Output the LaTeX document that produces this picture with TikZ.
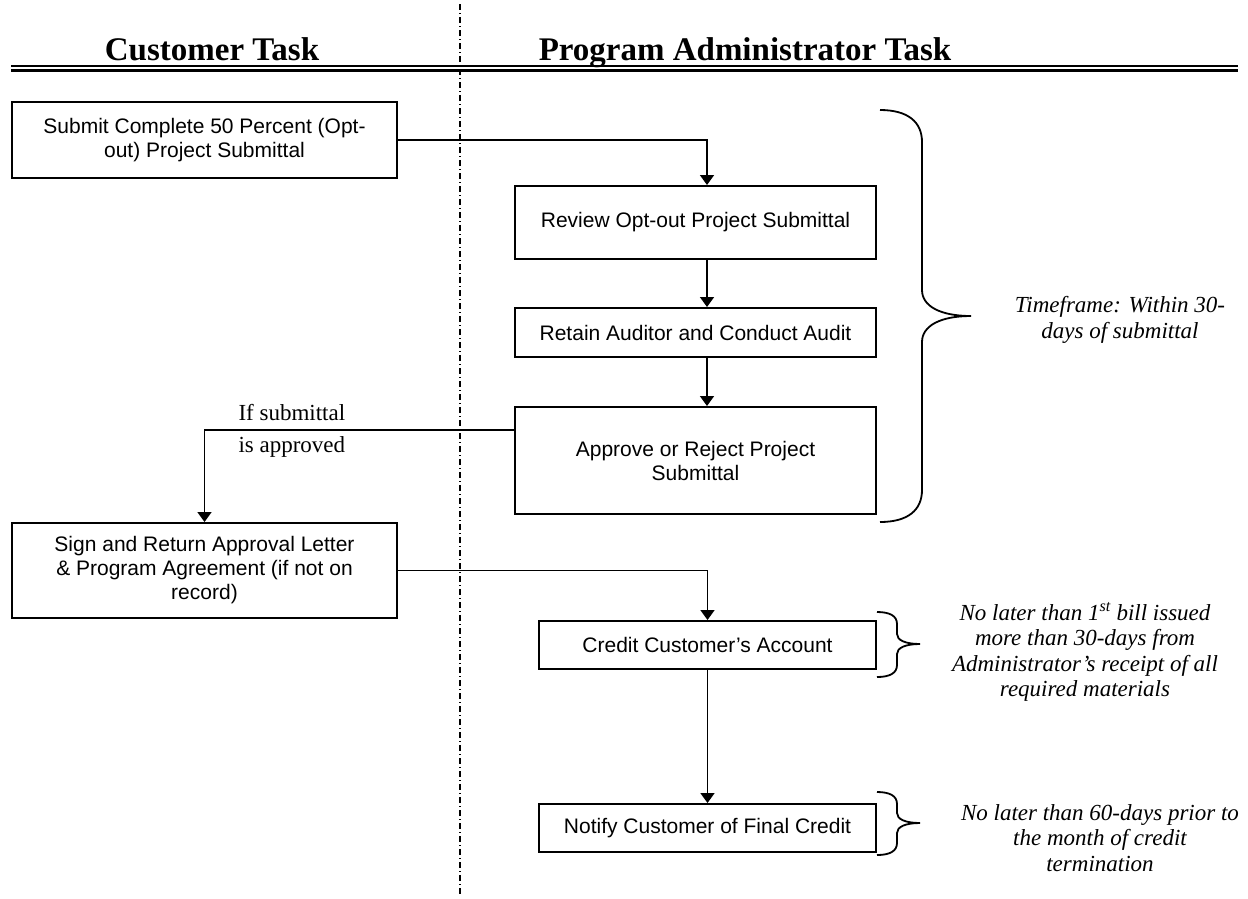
\documentclass[tikz,border=0pt]{standalone}
\usepackage{fontspec}
\setmainfont{Liberation Serif}
\newfontfamily\boxfont{Liberation Sans}
\usetikzlibrary{arrows.meta, positioning, calc}

\begin{document}
\begin{tikzpicture}[x=1pt, y=-1pt,
    task/.style={draw, line width=2pt, align=center, inner sep=2pt, font=\boxfont\fontsize{21}{24}\selectfont},
    note/.style={align=center, font=\itshape\fontsize{23}{25.5}\selectfont},
    head/.style={font=\bfseries\fontsize{33}{36}\selectfont},
    arr/.style={line width=1.7pt, -{Triangle[width=14pt, length=10pt]}},
    curly/.style={line width=1.8pt}]
    \useasboundingbox (0,0) rectangle (1248,898);
    % swim lanes
    \draw[line width=1.2pt, dash pattern=on 6pt off 3pt on 1pt off 3pt] (460,4) -- (460,896);
    \node[head, anchor=base] (cust) at (212,60) {Customer Task};
    \node[head, anchor=base] (admin) at (745,60) {Program Administrator Task};
    \draw[line width=2.3pt] (11,66) -- (1238,66);
    \draw[line width=2.3pt] (11,70.5) -- (1238,70.5);

    % steps
    \node[task, anchor=north west, minimum width=385pt, minimum height=76pt] (sub) at (11,101) {Submit Complete 50 Percent (Opt-\\out) Project Submittal};
    \node[task, anchor=north west, minimum width=361pt, minimum height=73pt] (rev) at (514,185) {Review Opt-out Project Submittal};
    \node[task, minimum width=361pt, minimum height=49pt, below=47pt of rev] (ret) {Retain Auditor and Conduct Audit};
    \node[task, minimum width=361pt, minimum height=107pt, below=48pt of ret] (appr) {Approve or Reject Project\\Submittal};
    \node[task, anchor=north west, minimum width=385pt, minimum height=95pt] (sign) at (11,522) {Sign and Return Approval Letter\\\& Program Agreement (if not on\\record)};
    \node[task, anchor=north west, minimum width=337pt, minimum height=48pt] (cred) at (538,620) {Credit Customer’s Account};
    \node[task, minimum width=337pt, minimum height=48pt, below=133pt of cred] (notify) {Notify Customer of Final Credit};

    % flow
    \coordinate (spine) at (707,0);
    \draw[arr] (sub.east) -| (rev.north -| spine);
    \draw[arr] (rev.south -| spine) -- (ret.north -| spine);
    \draw[arr] (ret.south -| spine) -- (appr.north -| spine);
    \draw[arr] ([yshift=-24pt]appr.north west) -| (sign.north);
    \draw[arr] (sign.east) -| (cred.north);
    \draw[arr] (cred.south) -- (notify.north);
    \node[anchor=base west, font=\fontsize{23}{25}\selectfont] (ifok) at (235,420) {If submittal};
    \node[anchor=base west, font=\fontsize{23}{25}\selectfont] (isok) at (235,452) {is approved};

    % time frames
    \draw[curly] (880,110) .. controls (908,110) and (922,122) .. (922,142) -- (922,290)
      .. controls (922,306) and (940,316) .. (971,316) .. controls (940,316) and (922,326) .. (922,342)
      -- (922,490) .. controls (922,510) and (908,522) .. (880,522);
    \draw[curly] (877,612) .. controls (890,612) and (897,616) .. (897,624) -- (897,634)
      .. controls (897,640) and (905,644) .. (920,644) .. controls (905,644) and (897,648) .. (897,654)
      -- (897,665) .. controls (897,673) and (890,677) .. (877,677);
    \draw[curly] (877,792) .. controls (890,792) and (897,796) .. (897,804) -- (897,813)
      .. controls (897,819) and (905,823) .. (920,823) .. controls (905,823) and (897,827) .. (897,833)
      -- (897,843) .. controls (897,851) and (890,855) .. (877,855);
    \node[note] (tfrm) at (1120,320) {Timeframe: Within 30-\\days of submittal};
    \node[note] (tcred) at (1085,652) {No later than 1\textsuperscript{st} bill issued\\more than 30-days from\\Administrator’s receipt of all\\required materials};
    \node[note] (tnote) at (1100,838) {No later than 60-days prior to\\the month of credit\\termination};
\end{tikzpicture}
\end{document}
